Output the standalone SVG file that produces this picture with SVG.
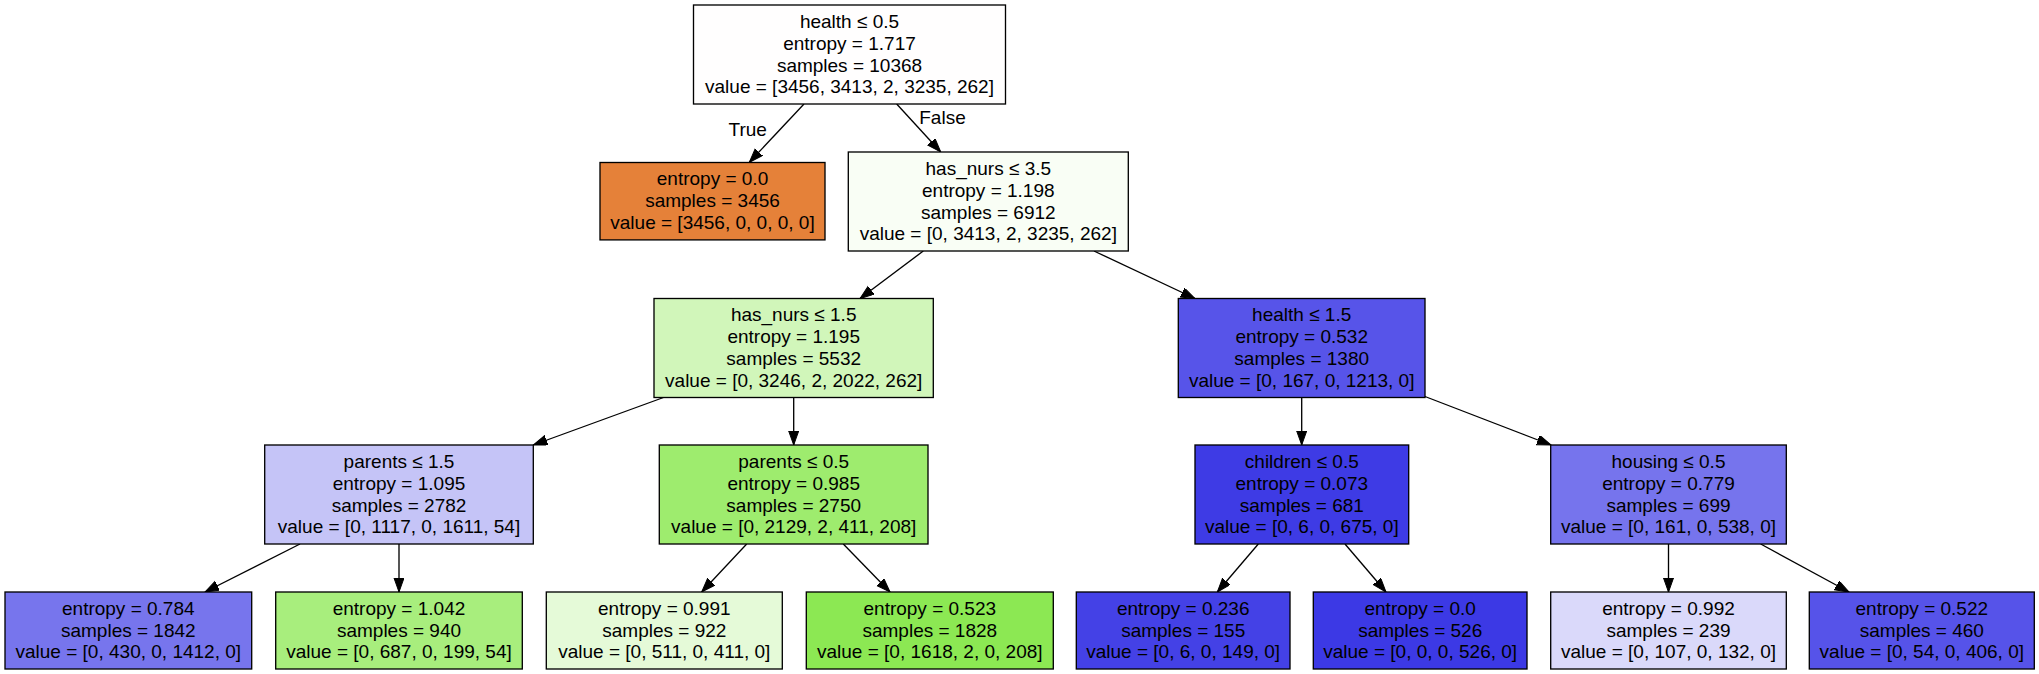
<svg xmlns="http://www.w3.org/2000/svg" width="2039" height="674" viewBox="0 0 2039 674">
<style>
  .box { stroke: #000; stroke-width: 1.33; }
  text { font-family: "Liberation Sans", Arial, Helvetica, sans-serif; font-size: 19px; fill: #000; text-anchor: middle; }
  .edge { stroke: #000; stroke-width: 1.33; fill: none; marker-end: url(#arrow); }
</style>
<defs>
  <marker id="arrow" markerUnits="userSpaceOnUse" markerWidth="15" markerHeight="11" refX="14" refY="5" orient="auto">
    <path d="M0,0 L14,5 L0,10 z" fill="#000" stroke="#000" stroke-width="1"/>
  </marker>
</defs>
<rect width="2039" height="674" fill="#fff"/>

<g id="connectors">
  <line class="edge" x1="804" y1="104" x2="749.3" y2="162.3"/>
  <line class="edge" x1="896.7" y1="104" x2="940.7" y2="152"/>
  <line class="edge" x1="923.3" y1="251" x2="860" y2="298.5"/>
  <line class="edge" x1="1094" y1="251" x2="1195" y2="298.5"/>
  <line class="edge" x1="663.5" y1="397.5" x2="533.3" y2="445"/>
  <line class="edge" x1="793.7" y1="397.5" x2="793.7" y2="445"/>
  <line class="edge" x1="1301.7" y1="397.5" x2="1301.7" y2="445"/>
  <line class="edge" x1="1425" y1="396.5" x2="1551" y2="445"/>
  <line class="edge" x1="300" y1="544" x2="205" y2="592"/>
  <line class="edge" x1="399" y1="544" x2="399" y2="592"/>
  <line class="edge" x1="746.7" y1="544" x2="701.7" y2="592"/>
  <line class="edge" x1="843.3" y1="544" x2="890" y2="592"/>
  <line class="edge" x1="1258.3" y1="544" x2="1217.3" y2="592"/>
  <line class="edge" x1="1345" y1="544" x2="1386" y2="592"/>
  <line class="edge" x1="1668.5" y1="544" x2="1668.5" y2="592"/>
  <line class="edge" x1="1760.7" y1="544" x2="1849" y2="592"/>
  <text x="747.7" y="135.5">True</text>
  <text x="942.5" y="124">False</text>
</g>

<g id="node0">
  <rect class="box" x="693.5" y="5" width="312" height="99" fill="#fffefe"/>
  <text x="849.5" y="27.9">health ≤ 0.5</text>
  <text x="849.5" y="49.7">entropy = 1.717</text>
  <text x="849.5" y="71.5">samples = 10368</text>
  <text x="849.5" y="93.3">value = [3456, 3413, 2, 3235, 262]</text>
</g>

<g id="node1">
  <rect class="box" x="600" y="162.5" width="225" height="77.4" fill="#e58139"/>
  <text x="712.5" y="185.4">entropy = 0.0</text>
  <text x="712.5" y="207.2">samples = 3456</text>
  <text x="712.5" y="229">value = [3456, 0, 0, 0, 0]</text>
</g>

<g id="node2">
  <rect class="box" x="848.3" y="152" width="280" height="99" fill="#f9fef5"/>
  <text x="988.3" y="174.9">has_nurs ≤ 3.5</text>
  <text x="988.3" y="196.7">entropy = 1.198</text>
  <text x="988.3" y="218.5">samples = 6912</text>
  <text x="988.3" y="240.3">value = [0, 3413, 2, 3235, 262]</text>
</g>

<g id="node3">
  <rect class="box" x="654" y="298.5" width="279.3" height="99" fill="#d1f6ba"/>
  <text x="793.7" y="321.4">has_nurs ≤ 1.5</text>
  <text x="793.7" y="343.2">entropy = 1.195</text>
  <text x="793.7" y="365">samples = 5532</text>
  <text x="793.7" y="386.8">value = [0, 3246, 2, 2022, 262]</text>
</g>

<g id="node4">
  <rect class="box" x="1178.3" y="298.5" width="246.7" height="99" fill="#5754e9"/>
  <text x="1301.7" y="321.4">health ≤ 1.5</text>
  <text x="1301.7" y="343.2">entropy = 0.532</text>
  <text x="1301.7" y="365">samples = 1380</text>
  <text x="1301.7" y="386.8">value = [0, 167, 0, 1213, 0]</text>
</g>

<g id="node5">
  <rect class="box" x="264.7" y="445" width="268.6" height="99" fill="#c5c4f7"/>
  <text x="399" y="467.9">parents ≤ 1.5</text>
  <text x="399" y="489.7">entropy = 1.095</text>
  <text x="399" y="511.5">samples = 2782</text>
  <text x="399" y="533.3">value = [0, 1117, 0, 1611, 54]</text>
</g>

<g id="node6">
  <rect class="box" x="659.3" y="445" width="268.7" height="99" fill="#9eec6e"/>
  <text x="793.7" y="467.9">parents ≤ 0.5</text>
  <text x="793.7" y="489.7">entropy = 0.985</text>
  <text x="793.7" y="511.5">samples = 2750</text>
  <text x="793.7" y="533.3">value = [0, 2129, 2, 411, 208]</text>
</g>

<g id="node7">
  <rect class="box" x="1195" y="445" width="213.7" height="99" fill="#3e3be5"/>
  <text x="1301.8" y="467.9">children ≤ 0.5</text>
  <text x="1301.8" y="489.7">entropy = 0.073</text>
  <text x="1301.8" y="511.5">samples = 681</text>
  <text x="1301.8" y="533.3">value = [0, 6, 0, 675, 0]</text>
</g>

<g id="node8">
  <rect class="box" x="1550.7" y="445" width="235.6" height="99" fill="#7674ed"/>
  <text x="1668.5" y="467.9">housing ≤ 0.5</text>
  <text x="1668.5" y="489.7">entropy = 0.779</text>
  <text x="1668.5" y="511.5">samples = 699</text>
  <text x="1668.5" y="533.3">value = [0, 161, 0, 538, 0]</text>
</g>

<g id="node9">
  <rect class="box" x="5" y="592" width="246.7" height="77" fill="#7775ed"/>
  <text x="128.3" y="614.7">entropy = 0.784</text>
  <text x="128.3" y="636.5">samples = 1842</text>
  <text x="128.3" y="658.3">value = [0, 430, 0, 1412, 0]</text>
</g>

<g id="node10">
  <rect class="box" x="275.7" y="592" width="246.6" height="77" fill="#a8ee7d"/>
  <text x="399" y="614.7">entropy = 1.042</text>
  <text x="399" y="636.5">samples = 940</text>
  <text x="399" y="658.3">value = [0, 687, 0, 199, 54]</text>
</g>

<g id="node11">
  <rect class="box" x="546.3" y="592" width="236" height="77" fill="#e5fad8"/>
  <text x="664.3" y="614.7">entropy = 0.991</text>
  <text x="664.3" y="636.5">samples = 922</text>
  <text x="664.3" y="658.3">value = [0, 511, 0, 411, 0]</text>
</g>

<g id="node12">
  <rect class="box" x="806.3" y="592" width="247" height="77" fill="#8ce853"/>
  <text x="929.8" y="614.7">entropy = 0.523</text>
  <text x="929.8" y="636.5">samples = 1828</text>
  <text x="929.8" y="658.3">value = [0, 1618, 2, 0, 208]</text>
</g>

<g id="node13">
  <rect class="box" x="1076.3" y="592" width="213.7" height="77" fill="#4441e6"/>
  <text x="1183.2" y="614.7">entropy = 0.236</text>
  <text x="1183.2" y="636.5">samples = 155</text>
  <text x="1183.2" y="658.3">value = [0, 6, 0, 149, 0]</text>
</g>

<g id="node14">
  <rect class="box" x="1313.3" y="592" width="213.7" height="77" fill="#3c39e5"/>
  <text x="1420.2" y="614.7">entropy = 0.0</text>
  <text x="1420.2" y="636.5">samples = 526</text>
  <text x="1420.2" y="658.3">value = [0, 0, 0, 526, 0]</text>
</g>

<g id="node15">
  <rect class="box" x="1550.7" y="592" width="235.6" height="77" fill="#dad9fa"/>
  <text x="1668.5" y="614.7">entropy = 0.992</text>
  <text x="1668.5" y="636.5">samples = 239</text>
  <text x="1668.5" y="658.3">value = [0, 107, 0, 132, 0]</text>
</g>

<g id="node16">
  <rect class="box" x="1809.3" y="592" width="225" height="77" fill="#5653e9"/>
  <text x="1921.8" y="614.7">entropy = 0.522</text>
  <text x="1921.8" y="636.5">samples = 460</text>
  <text x="1921.8" y="658.3">value = [0, 54, 0, 406, 0]</text>
</g>
</svg>
